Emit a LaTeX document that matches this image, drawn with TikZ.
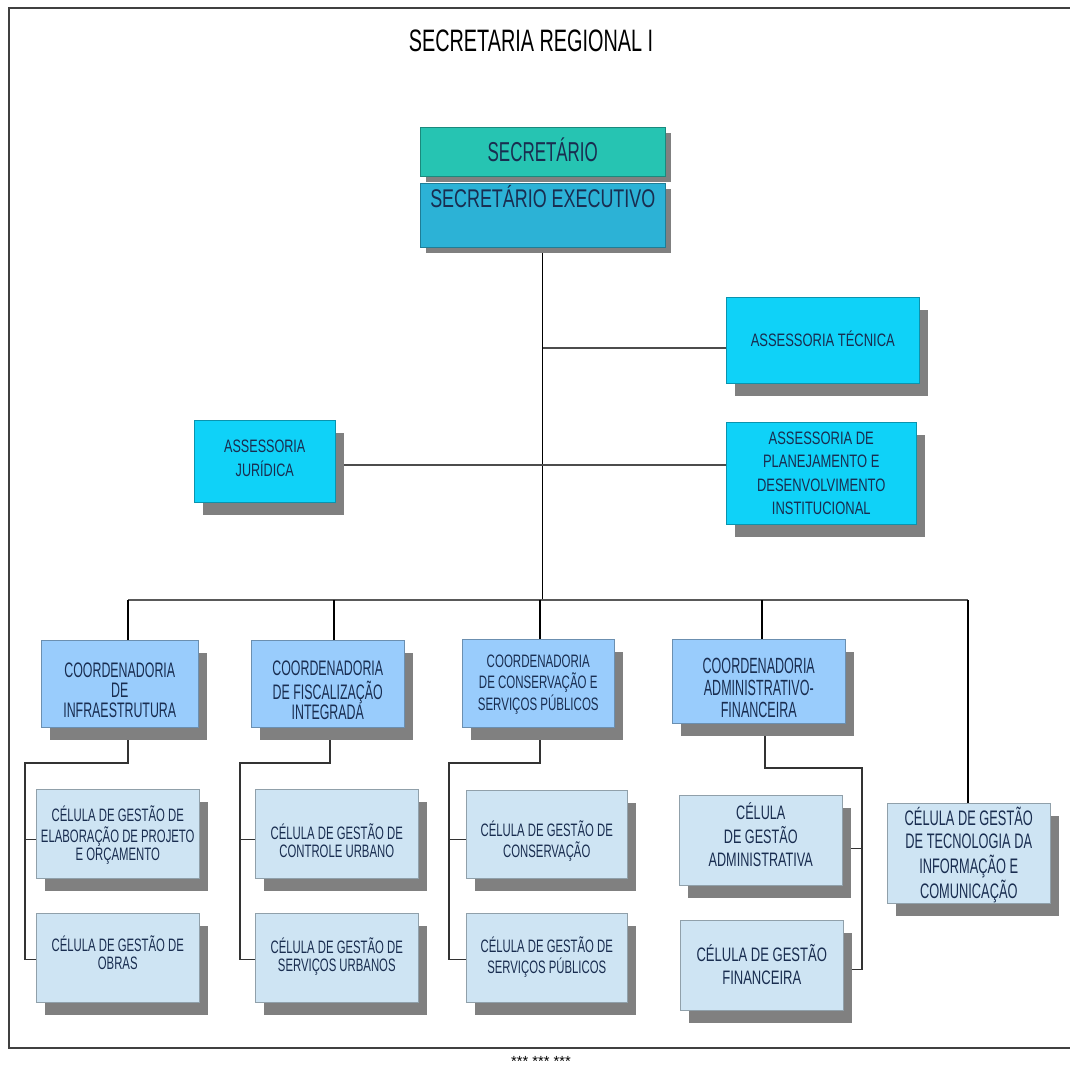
\documentclass[tikz,border=0pt]{standalone}
\usepackage{fontspec}
\setmainfont{Liberation Sans}
\usepackage{graphicx}
\usetikzlibrary{shadows,backgrounds}
\definecolor{secc}{RGB}{38,196,178}
\definecolor{exec}{RGB}{44,178,214}
\definecolor{assc}{RGB}{15,210,248}
\definecolor{coorc}{RGB}{153,204,252}
\definecolor{cellc}{RGB}{206,228,243}
\definecolor{shadc}{RGB}{128,128,128}
\definecolor{txtc}{RGB}{25,45,80}
\newcommand\tx[5][0pt]{\raisebox{-#1}[\height][\depth]{\scalebox{#2}[1]{\fontsize{#3}{#4}\selectfont\begin{tabular}{@{}c@{}}#5\end{tabular}}}}
\newcommand\rt[4]{\raisebox{#4}[0pt][0pt]{\scalebox{#1}[1]{\fontsize{#2}{#2}\selectfont #3}}}
\begin{document}
\begin{tikzpicture}[x=0.75pt,y=-0.75pt,
  box/.style={draw=#1!70!black, line width=0.4pt, fill=#1, inner sep=0pt,
    anchor=north west, text=txtc,
    drop shadow={shadow xshift=6.5pt, shadow yshift=-9.5pt, opacity=1, fill=shadc}},
  topbox/.style={draw=#1!70!black, line width=0.4pt, fill=#1, inner sep=0pt,
    anchor=north west, text=txtc,
    drop shadow={shadow xshift=4pt, shadow yshift=-4.5pt, opacity=1, fill=shadc}},
  sz/.style 2 args={minimum width=#1*0.75pt, minimum height=#2*0.75pt},
  trunk/.style={draw=black, line width=0.8pt},
  bus/.style={draw=black!65, line width=1.6pt},
  drop/.style={draw=black, line width=1pt},
  asl/.style={draw=black!70, line width=1.3pt},
  thinc/.style={draw=black!80, line width=0.8pt},
  frame/.style={draw=black!75, line width=2pt}]
\useasboundingbox (0,0) rectangle (1070,1069);
\draw[frame] (1070,8) -- (9,8) -- (9,1048) -- (1070,1048);

\node[text=black] (title) at (531,45) {\tx{.64}{23.25pt}{23.25pt}{SECRETARIA REGIONAL I}};

\node[topbox=exec, sz={245}{64}] (exe) at (420,183) {\rt{.7}{19.2pt}{SECRETÁRIO EXECUTIVO}{5.5pt}};
\node[topbox=secc, sz={245}{49}] (sec) at (420,127) {\rt{.62}{20.5pt}{SECRETÁRIO}{-7pt}};

\node[box=assc, sz={193}{86}] (tec) at (726,297) {\tx[1pt]{.72}{13.5pt}{13.5pt}{ASSESSORIA TÉCNICA}};
\node[box=assc, sz={141}{82}] (jur) at (194,420) {\tx[-1pt]{.70}{13.5pt}{18pt}{ASSESSORIA\\JURÍDICA}};
\node[box=assc, sz={190}{102}] (pla) at (726,422) {\tx[1.3pt]{.72}{13.5pt}{17.6pt}{ASSESSORIA DE\\PLANEJAMENTO E\\DESENVOLVIMENTO\\INSTITUCIONAL}};

\node[box=coorc, sz={157}{87}] (ci) at (41,640) {\tx[7pt]{.59}{15.75pt}{13.5pt}{COORDENADORIA\\DE\\INFRAESTRUTURA}};
\node[box=coorc, sz={153}{87}] (cf) at (251,640) {\tx[7pt]{.59}{15.75pt}{13.5pt}{COORDENADORIA\\DE FISCALIZAÇÃO\\INTEGRADA}};
\node[box=coorc, sz={152}{88}] (cc) at (462,639) {\tx[1.2pt]{.64}{13.5pt}{14.25pt}{COORDENADORIA\\DE CONSERVAÇÃO E\\SERVIÇOS PÚBLICOS}};
\node[box=coorc, sz={173}{84}] (ca) at (672,639) {\tx[7.2pt]{.57}{16.5pt}{16pt}{COORDENADORIA\\ADMINISTRATIVO-\\FINANCEIRA}};

\node[box=cellc, sz={163}{89}] (i1) at (36,789) {\tx[1.4pt]{.63}{13.5pt}{13.5pt}{CÉLULA DE GESTÃO DE\\ELABORAÇÃO DE PROJETO\\E ORÇAMENTO}};
\node[box=cellc, sz={163}{89}] (i2) at (36,913) {\tx[-1.6pt]{.63}{13.5pt}{13.5pt}{CÉLULA DE GESTÃO DE\\OBRAS}};
\node[box=cellc, sz={163}{89}] (f1) at (255,789) {\tx[7.5pt]{.63}{13.5pt}{13.5pt}{CÉLULA DE GESTÃO DE\\CONTROLE URBANO}};
\node[box=cellc, sz={163}{89}] (f2) at (255,913) {\tx[-0.5pt]{.63}{13.5pt}{13.5pt}{CÉLULA DE GESTÃO DE\\SERVIÇOS URBANOS}};
\node[box=cellc, sz={161}{88}] (c1) at (466,790) {\tx[5.9pt]{.63}{13.5pt}{14.5pt}{CÉLULA DE GESTÃO DE\\CONSERVAÇÃO}};
\node[box=cellc, sz={161}{89}] (c2) at (466,913) {\tx{.63}{13.5pt}{14.5pt}{CÉLULA DE GESTÃO DE\\SERVIÇOS PÚBLICOS}};
\node[box=cellc, sz={163}{90}] (a1) at (679,795) {\tx[-2pt]{.65}{14.6pt}{17.25pt}{CÉLULA\\DE GESTÃO\\ADMINISTRATIVA}};
\node[box=cellc, sz={163}{90}] (a2) at (680,920) {\tx[2.2pt]{.67}{14.6pt}{17.25pt}{CÉLULA DE GESTÃO\\FINANCEIRA}};
\node[box=cellc, sz={163}{100}] (ti) at (887,803) {\tx[2.2pt]{.61}{15.75pt}{17.25pt}{CÉLULA DE GESTÃO\\DE TECNOLOGIA DA\\INFORMAÇÃO E\\COMUNICAÇÃO}};

\node[text=black, anchor=base, inner sep=0pt] (stars) at (541,1066) {\fontsize{11pt}{11pt}\selectfont *** *** ***};

\begin{pgfonlayer}{background}
\coordinate (d1) at (128,600);
\coordinate (d2) at (334,600);
\coordinate (d3) at (540,600);
\coordinate (d4) at (762,600);
\coordinate (d5) at (968,600);
\draw[trunk] (exe.south) -- (exe.south |- d3);
\draw[asl] ([yshift=-6pt]tec.west) -- ([yshift=-6pt]tec.west -| exe.south);
\draw[asl] ([yshift=-3pt]jur.east) -- ([yshift=-3pt]jur.east -| pla.west);
\draw[bus] (d1) -- (d5);
\draw[drop] (d1) -- (d1 |- ci.north);
\draw[drop] (d2) -- (d2 |- cf.north);
\draw[drop] (d3) -- (d3 |- cc.north);
\draw[drop] (d4) -- (d4 |- ca.north);
\draw[drop] (d5) -- (d5 |- ti.north);
\coordinate (iu) at (128,763);
\coordinate (fu) at (330,763);
\coordinate (cu) at (540,763);
\coordinate (au) at (765,768);
\coordinate (iv) at (25,763);
\coordinate (fv) at (240,763);
\coordinate (cv) at (449,763);
\coordinate (av) at (862,768);
\draw[thinc] (iu |- ci.south) -- (iu) -- (iv) -- ([yshift=-1pt]iv |- i2.west) -- ([yshift=-1pt]i2.west);
\draw[thinc] ([yshift=-4pt]iv |- i1.west) -- ([yshift=-4pt]i1.west);
\draw[thinc] (fu |- cf.south) -- (fu) -- (fv) -- ([yshift=-1pt]fv |- f2.west) -- ([yshift=-1pt]f2.west);
\draw[thinc] ([yshift=-4pt]fv |- f1.west) -- ([yshift=-4pt]f1.west);
\draw[thinc] (cu |- cc.south) -- (cu) -- (cv) -- ([yshift=-1pt]cv |- c2.west) -- ([yshift=-1pt]c2.west);
\draw[thinc] ([yshift=-4pt]cv |- c1.west) -- ([yshift=-4pt]c1.west);
\draw[thinc] (au |- ca.south) -- (au) -- (av) -- ([yshift=-3pt]av |- a2.east) -- ([yshift=-3pt]a2.east);
\draw[thinc] ([yshift=-6pt]a1.east) -- ([yshift=-6pt]a1.east -| av);
\end{pgfonlayer}
\end{tikzpicture}
\end{document}
